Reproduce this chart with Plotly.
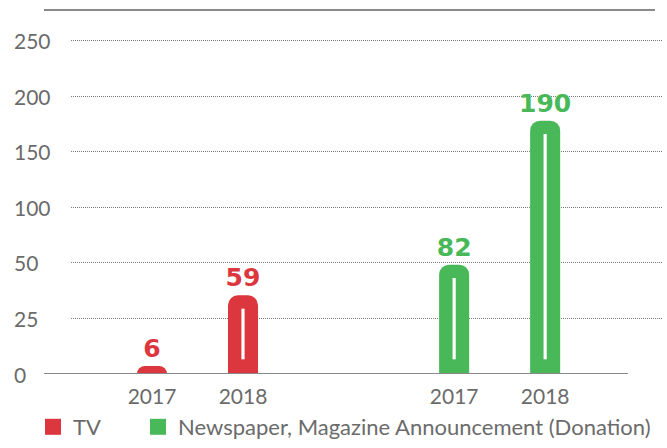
import plotly.graph_objects as go

# Chart data
SERIES = ["TV", "Newspaper, Magazine Announcement (Donation)"]
YEARS = ["2017", "2018"]
TV_VALUES = [6, 59]
PRINT_VALUES = [82, 190]
Y_TICK_LABELS = ["0", "25", "50", "100", "150", "200", "250"]

COLORS = ["#DC363E", "#48B858"]
GRAY = "#6b6b6b"
LINE_GRAY = "#8a8a8a"

# layout constants (pixels)
W, H = 667, 448
M_L, M_R, M_T = 71, 4, 10
PLOT_BOTTOM = 374
PLOT_W = W - M_L - M_R
PAPER_H = H - M_T
GROUP_GAP = 3.32          # distance between group starts, in bar slots
BAR_W = 0.33
INNER_W = 0.035
INNER_BASE = 11           # white stripe starts this far above zero
INNER_TOP_PAD = 10        # and stops this far below the bar top
Y_MAX = 273
FONT = "Lato"
LEGEND_X_PX = [33, 138]


def px_x(px):
    return (px - M_L) / PLOT_W


def px_y(py):
    return (H - py) / PAPER_H


fig = go.Figure()

all_x = []
legend_ids = ["legend", "legend2"]
for g, (name, vals) in enumerate(zip(SERIES, [TV_VALUES, PRINT_VALUES])):
    xs = [g * GROUP_GAP + i for i in range(len(vals))]
    all_x += xs
    fig.add_trace(go.Bar(
        x=xs, y=vals, width=BAR_W, name=name,
        marker=dict(color=COLORS[g], cornerradius=10, line=dict(width=0)),
        text=[str(v) for v in vals], textposition="outside", constraintext="none",
        textfont=dict(family="DejaVu Sans", size=25, color=COLORS[g], weight="bold"),
        cliponaxis=False, showlegend=False, hoverinfo="skip",
    ))
    # thin white stripe inside each tall bar
    stripe = [v - INNER_BASE - INNER_TOP_PAD if v - INNER_BASE - INNER_TOP_PAD > 0 else None
              for v in vals]
    fig.add_trace(go.Bar(
        x=xs, y=stripe, base=INNER_BASE, width=INNER_W,
        marker=dict(color="white", line=dict(width=0)),
        showlegend=False, hoverinfo="skip",
    ))
    # legend swatch
    fig.add_trace(go.Scatter(
        x=[None], y=[None], mode="markers", name=name, legend=legend_ids[g],
        marker=dict(symbol="square", size=16, color=COLORS[g]),
    ))

# ordinal grid: tick labels are evenly spaced categories
fig.add_trace(go.Scatter(
    x=[all_x[0]] * len(Y_TICK_LABELS), y=Y_TICK_LABELS, yaxis="y2",
    mode="markers", marker=dict(opacity=0), showlegend=False, hoverinfo="skip",
))

for idx, lab in enumerate(Y_TICK_LABELS):
    fig.add_annotation(
        text=lab, xref="paper", yref="y2", x=px_x(12), y=idx,
        xanchor="left", yanchor="middle", showarrow=False,
        font=dict(family=FONT, size=21, color=GRAY),
    )

shapes = [
    # top rule
    dict(type="line", xref="paper", yref="paper", x0=px_x(44), x1=px_x(655),
         y0=1, y1=1, line=dict(color=LINE_GRAY, width=2)),
    # baseline
    dict(type="line", xref="paper", yref="y", x0=px_x(44), x1=px_x(628),
         y0=0, y1=0, line=dict(color=LINE_GRAY, width=2)),
]

y_domain = [px_y(PLOT_BOTTOM), 1]

legend_style = dict(
    orientation="h", xanchor="left", y=px_y(427), yanchor="middle",
    font=dict(family=FONT, size=22, color=GRAY),
    bgcolor="rgba(0,0,0,0)", itemclick=False,
)

fig.update_layout(
    width=W, height=H,
    margin=dict(l=M_L, r=M_R, t=M_T, b=0, autoexpand=False),
    paper_bgcolor="white", plot_bgcolor="white",
    barmode="overlay",
    font=dict(family=FONT, size=21, color=GRAY),
    xaxis=dict(
        range=[-0.89, 5.615], showgrid=False, zeroline=False, showline=False,
        tickvals=all_x, ticktext=YEARS * len(SERIES),
        ticks="outside", ticklen=4, tickcolor="rgba(0,0,0,0)",
        tickfont=dict(family=FONT, size=21, color=GRAY),
        anchor="y",
    ),
    yaxis=dict(range=[0, Y_MAX], domain=y_domain, showgrid=False, zeroline=False,
               showticklabels=False),
    yaxis2=dict(
        type="category", overlaying="y", side="left",
        categoryorder="array", categoryarray=Y_TICK_LABELS,
        range=[0, 6.55], showticklabels=False, ticks="",
        showgrid=True, gridcolor="#7a7a7a", griddash="1px,1px", gridwidth=1,
        zeroline=False, showline=False,
    ),
    legend=dict(legend_style, x=px_x(LEGEND_X_PX[0])),
    legend2=dict(legend_style, x=px_x(LEGEND_X_PX[1])),
    shapes=shapes,
)

fig.write_html("out.html")
